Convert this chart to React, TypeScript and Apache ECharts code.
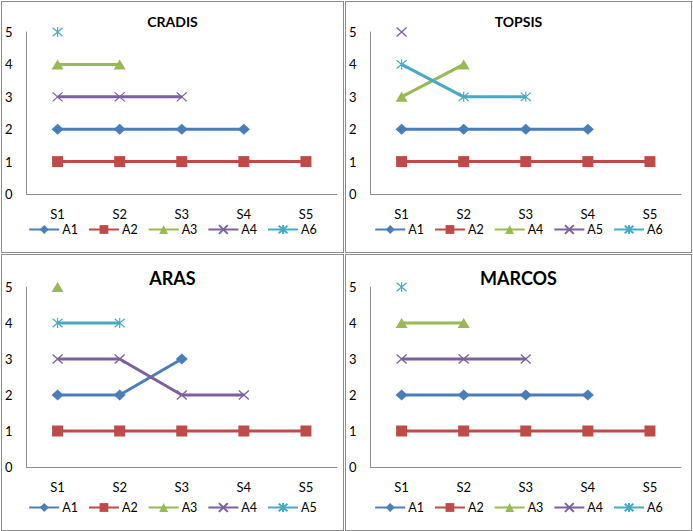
import React, { useEffect, useRef } from "react";
import * as echarts from "echarts";

// ---------- data ----------
const categories = ["S1", "S2", "S3", "S4", "S5"];
const yMin = 0;
const yMax = 5;
const yInterval = 1;

const cradisNames = ["A1", "A2", "A3", "A4", "A6"];
const cradisA1 = [2, 2, 2, 2, null];
const cradisA2 = [1, 1, 1, 1, 1];
const cradisA3 = [4, 4, null, null, null];
const cradisA4 = [3, 3, 3, null, null];
const cradisA6 = [5, null, null, null, null];

const topsisNames = ["A1", "A2", "A4", "A5", "A6"];
const topsisA1 = [2, 2, 2, 2, null];
const topsisA2 = [1, 1, 1, 1, 1];
const topsisA4 = [3, 4, null, null, null];
const topsisA5 = [5, null, null, null, null];
const topsisA6 = [4, 3, 3, null, null];

const arasNames = ["A1", "A2", "A3", "A4", "A5"];
const arasA1 = [2, 2, 3, null, null];
const arasA2 = [1, 1, 1, 1, 1];
const arasA3 = [5, null, null, null, null];
const arasA4 = [3, 3, 2, 2, null];
const arasA5 = [4, 4, null, null, null];

const marcosNames = ["A1", "A2", "A3", "A4", "A6"];
const marcosA1 = [2, 2, 2, 2, null];
const marcosA2 = [1, 1, 1, 1, 1];
const marcosA3 = [4, 4, null, null, null];
const marcosA4 = [3, 3, 3, null, null];
const marcosA6 = [5, null, null, null, null];

// ---------- styles ----------
const FONT = "Lato";
const palette = ["#4A7EBB", "#BE4B48", "#98B954", "#7D60A0", "#46AAC5"];
const X_PATH = "path://M0,0L10,10M0,10L10,0";
const STAR_PATH = "path://M0,0L10,10M0,10L10,0M5,-1L5,11";
const markers: any[] = [
  { symbol: "diamond", size: [12, 11], border: 0 },
  { symbol: "rect", size: [11, 11], border: 0 },
  { symbol: "triangle", size: [12, 10], border: 0 },
  { symbol: X_PATH, size: [10, 9], border: 1.2 },
  { symbol: STAR_PATH, size: [10, 10], border: 1.2 },
];

type Panel = {
  title: string;
  names: string[];
  values: (number | null)[][];
  left: number;
  top: number;
  width: number;
  height: number;
  titleSize: number;
  titleTop: number;
  gridTop: number;
  gridHeight: number;
  legendTop: number;
};

const panels: Panel[] = [
  {
    title: "CRADIS",
    names: cradisNames,
    values: [cradisA1, cradisA2, cradisA3, cradisA4, cradisA6],
    left: 1, top: 1, width: 343, height: 252,
    titleSize: 14, titleTop: 12, gridTop: 30, gridHeight: 162, legendTop: 221,
  },
  {
    title: "TOPSIS",
    names: topsisNames,
    values: [topsisA1, topsisA2, topsisA4, topsisA5, topsisA6],
    left: 345, top: 1, width: 347, height: 252,
    titleSize: 14, titleTop: 12, gridTop: 30, gridHeight: 162, legendTop: 221,
  },
  {
    title: "ARAS",
    names: arasNames,
    values: [arasA1, arasA2, arasA3, arasA4, arasA5],
    left: 1, top: 254, width: 343, height: 277,
    titleSize: 18, titleTop: 14, gridTop: 32, gridHeight: 180, legendTop: 246,
  },
  {
    title: "MARCOS",
    names: marcosNames,
    values: [marcosA1, marcosA2, marcosA3, marcosA4, marcosA6],
    left: 345, top: 254, width: 347, height: 277,
    titleSize: 18, titleTop: 14, gridTop: 32, gridHeight: 180, legendTop: 246,
  },
];

function buildOption(p: Panel): any {
  const axisLine = { show: true, lineStyle: { color: "#8C8C8C", width: 1 } };
  return {
    animation: false,
    backgroundColor: "#fff",
    title: {
      text: p.title,
      left: "center",
      top: p.titleTop,
      padding: 0,
      textStyle: { fontFamily: FONT, fontWeight: "bold", fontSize: p.titleSize, color: "#000" },
    },
    legend: {
      data: p.names,
      top: p.legendTop,
      left: "center",
      padding: 0,
      itemWidth: 30,
      itemHeight: 11,
      itemGap: 10,
      textStyle: { fontFamily: FONT, fontSize: 12.5, color: "#000", padding: [0, 0, 0, -2] },
    },
    grid: { left: 22, top: p.gridTop, width: 313, height: p.gridHeight, containLabel: false },
    xAxis: {
      type: "category",
      data: categories,
      boundaryGap: true,
      axisLine,
      axisTick: { show: false },
      axisLabel: { margin: 13, fontFamily: FONT, fontSize: 13, color: "#000" },
    },
    yAxis: {
      type: "value",
      min: yMin,
      max: yMax,
      interval: yInterval,
      axisLine,
      axisTick: { show: false },
      splitLine: { show: false },
      axisLabel: { margin: 14, fontFamily: FONT, fontSize: 13, color: "#000" },
    },
    series: p.values.map((vals, i) => ({
      type: "line",
      name: p.names[i],
      data: vals,
      connectNulls: false,
      showSymbol: true,
      showAllSymbol: true,
      symbol: markers[i].symbol,
      symbolSize: markers[i].size,
      lineStyle: { color: palette[i], width: 3 },
      itemStyle: {
        color: palette[i],
        borderColor: palette[i],
        borderWidth: markers[i].border,
      },
      emphasis: { disabled: true },
    })),
  };
}

function ChartPanel({ p }: { p: Panel }) {
  const ref = useRef<HTMLDivElement>(null);
  useEffect(() => {
    if (!ref.current) return;
    const chart = echarts.init(ref.current, undefined, { renderer: "svg" });
    chart.setOption(buildOption(p));
    return () => chart.dispose();
  }, [p]);
  return (
    <div
      style={{
        position: "absolute",
        left: p.left,
        top: p.top,
        width: p.width,
        height: p.height,
        boxSizing: "border-box",
        border: "1px solid #8C8C8C",
        background: "#fff",
      }}
    >
      <div ref={ref} style={{ width: p.width - 2, height: p.height - 2 }} />
    </div>
  );
}

export default function App() {
  return (
    <div style={{ position: "fixed", left: 0, top: 0, width: 693, height: 531, background: "#fff" }}>
      {panels.map((p) => (
        <ChartPanel key={p.title} p={p} />
      ))}
    </div>
  );
}
